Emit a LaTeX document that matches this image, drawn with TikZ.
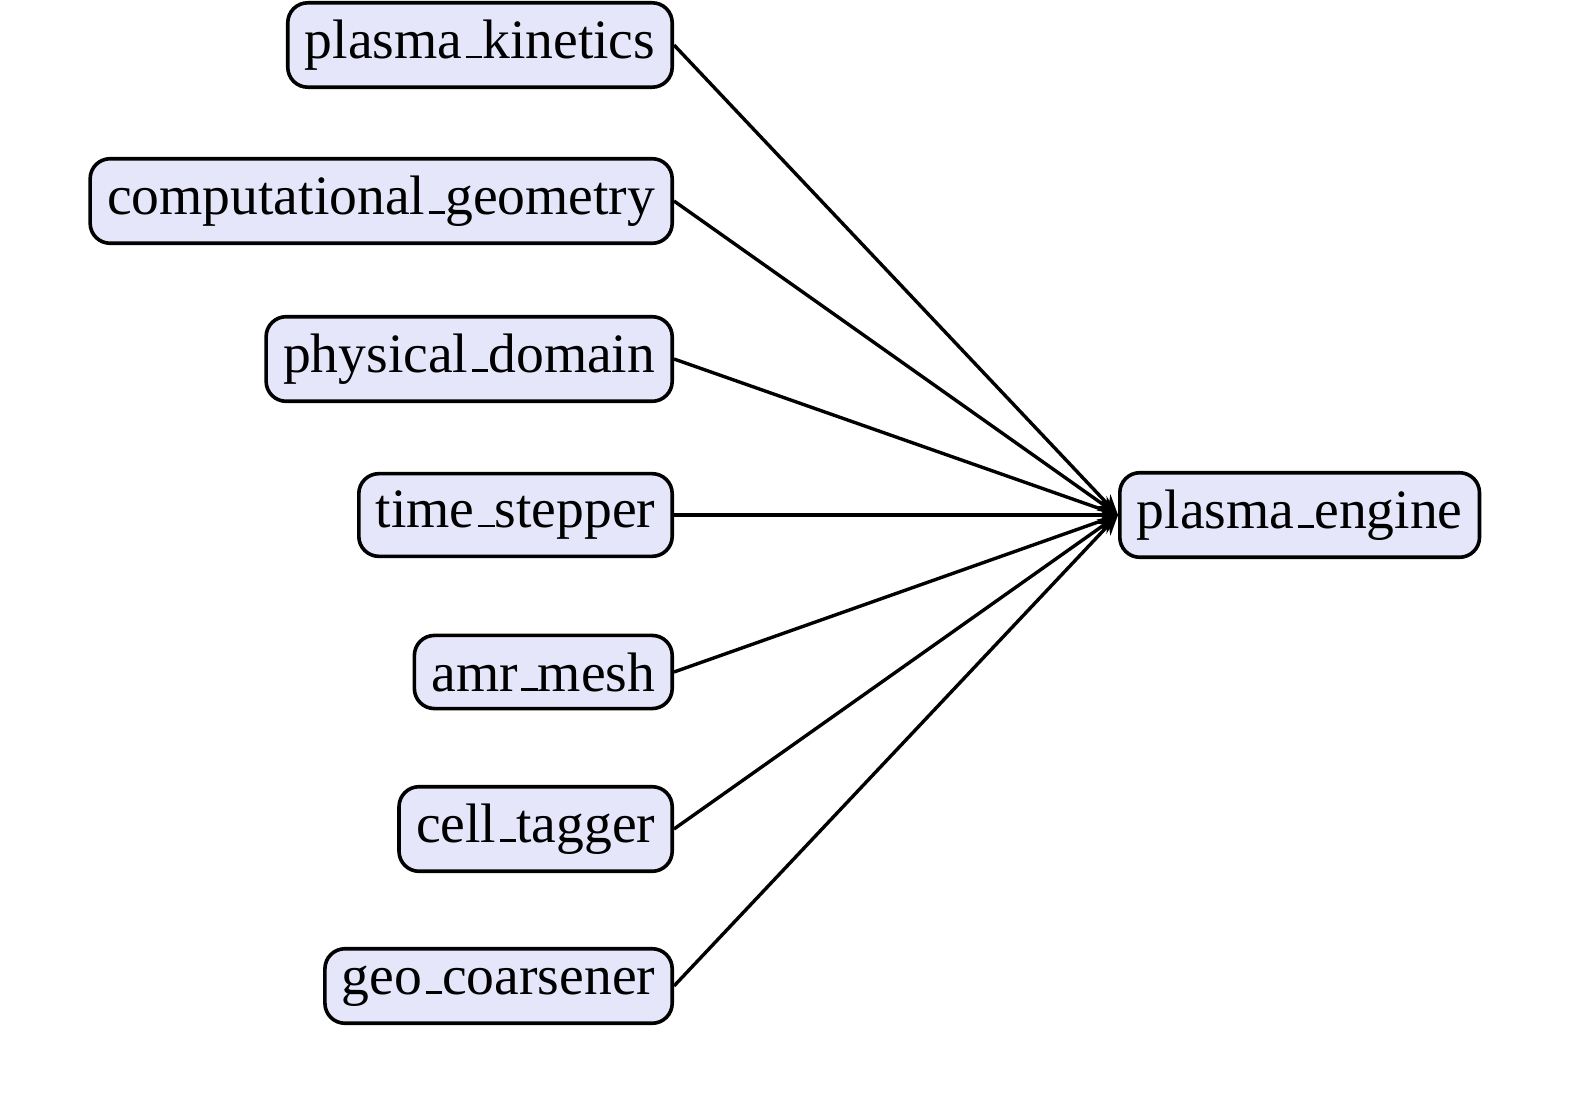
\documentclass[tikz,border=0pt]{standalone}
\usepackage{fontspec}
\setmainfont{Liberation Serif}
\usetikzlibrary{arrows.meta}
\definecolor{boxfill}{RGB}{230,230,250}
\newcommand\us{\leavevmode\kern.06em\vbox{\hrule height 2.8pt width .3em}}
\begin{document}
\begin{tikzpicture}[x=1pt,y=-1pt,
  box/.style={draw, line width=3.6pt, rounded corners=20pt, fill=boxfill,
    inner xsep=17pt, inner ysep=17pt, font=\fontsize{55.6}{66}\selectfont},
  edge/.style={line width=3.4pt, -{Stealth[length=20pt,width=17pt]}}]
\useasboundingbox (0,0) rectangle (1574,1102);
\node[box, anchor=east] (pk) at (674,45) {plasma\us kinetics};
\node[box, anchor=east] (cg) at (674,201) {computational\us geometry};
\node[box, anchor=east] (pd) at (674,359) {physical\us domain};
\node[box, anchor=east] (ts) at (674,515) {time\us stepper};
\node[box, anchor=east] (am) at (674,672) {amr\us mesh};
\node[box, anchor=east] (ct) at (674,829) {cell\us tagger};
\node[box, anchor=east] (gc) at (674,986) {geo\us coarsener};
\node[box, anchor=west] (pe) at (1118,515) {plasma\us engine};
\foreach \n in {pk,cg,pd,ts,am,ct,gc}
  \draw[edge] (\n.east) -- (pe.west);
\end{tikzpicture}
\end{document}
